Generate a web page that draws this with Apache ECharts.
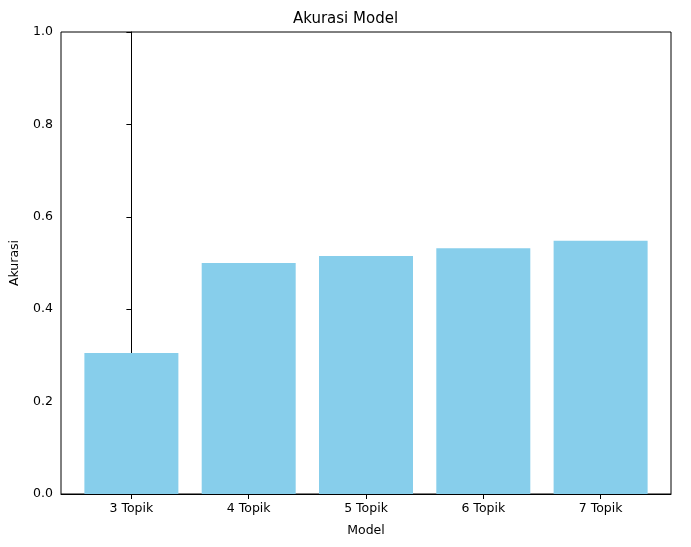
<!DOCTYPE html>
<html>
<head>
<meta charset="utf-8">
<script src="https://cdn.jsdelivr.net/npm/echarts@6/dist/echarts.min.js"></script>
<style>html,body{margin:0;padding:0;background:#fff}#chart{width:691px;height:547px}</style>
</head>
<body>
<div id="chart"></div>
<script>
var categories = ['3 Topik', '4 Topik', '5 Topik', '6 Topik', '7 Topik'];
var akurasi = [0.305, 0.500, 0.515, 0.532, 0.548];
var positions = [0, 1, 2, 3, 4];

var chart = echarts.init(document.getElementById('chart'));
var font = 'DejaVu Sans';
chart.setOption({
    animation: false,
    title: {
        text: 'Akurasi Model', left: 'center', top: 7,
        textStyle: {fontFamily: font, fontSize: 15, fontWeight: 'normal', color: '#000'}
    },
    grid: {left: 61, right: 20, top: 32, bottom: 53},
    xAxis: {
        type: 'value', min: -0.6, max: 4.6,
        name: 'Model', nameLocation: 'middle', nameGap: 30,
        nameTextStyle: {fontFamily: font, fontSize: 12.5, color: '#000'},
        axisLine: {lineStyle: {color: '#000'}},
        axisTick: {show: true, customValues: positions, lineStyle: {color: '#000'}},
        axisLabel: {fontFamily: font, fontSize: 12.5, color: '#000', customValues: positions,
            formatter: function (v) { return categories[Math.round(v)]; }},
        splitLine: {show: false}
    },
    yAxis: {
        type: 'value', min: 0, max: 1, interval: 0.2,
        name: 'Akurasi', nameLocation: 'middle', nameGap: 40,
        nameTextStyle: {fontFamily: font, fontSize: 12.5, color: '#000'},
        axisLine: {show: true, lineStyle: {color: '#000'}},
        axisTick: {show: true, lineStyle: {color: '#000'}},
        axisLabel: {fontFamily: font, fontSize: 12.5, color: '#000', formatter: function (v) { return v.toFixed(1); }},
        splitLine: {show: false}
    },
    series: [{
        type: 'bar', barWidth: 94,
        data: positions.map(function (p, i) { return [p, akurasi[i]]; }),
        itemStyle: {color: '#87ceeb'}
    }],
    graphic: [{
        type: 'rect', shape: {x: 61, y: 32, width: 610, height: 462},
        style: {fill: 'none', stroke: '#000', lineWidth: 1}, silent: true
    }]
});
</script>
</body>
</html>
